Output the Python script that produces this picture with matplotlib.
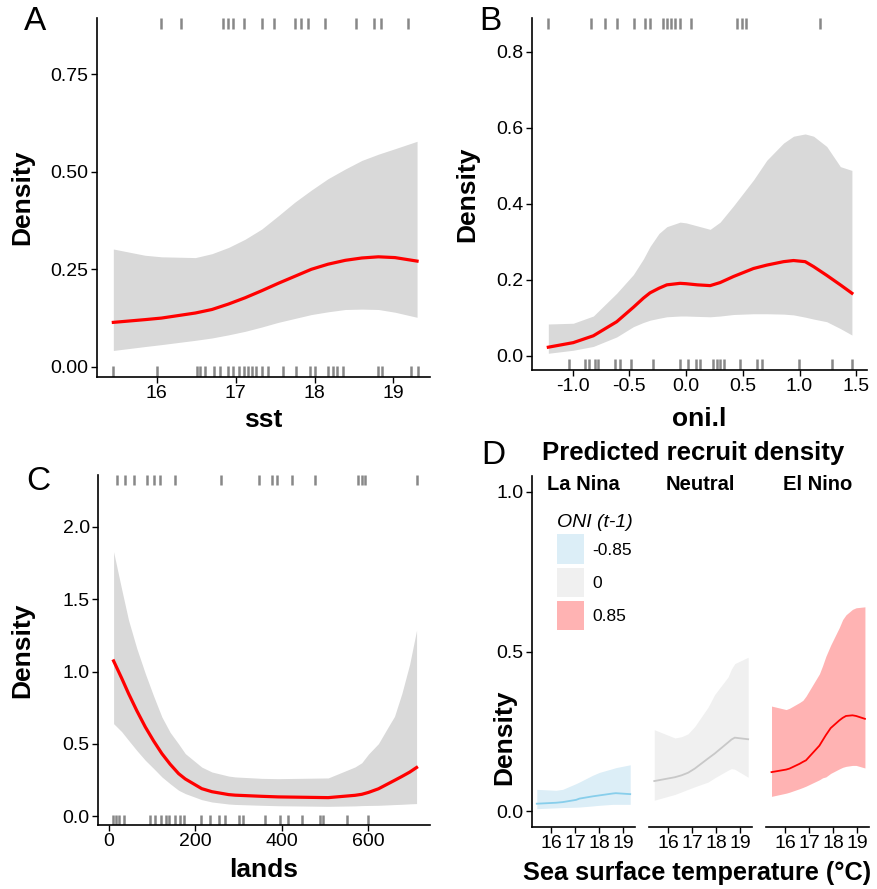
import numpy as np
import matplotlib
matplotlib.use("Agg")
import matplotlib.pyplot as plt
from matplotlib.patches import Patch

plt.rcParams['font.family'] = ['Liberation Sans', 'DejaVu Sans']
plt.rcParams['axes.unicode_minus'] = False

# --- Panel A : sst ---
sst_x = [15.45, 15.85, 16.06, 16.49, 16.70, 16.91, 17.12, 17.33, 17.54, 17.75, 17.96, 18.17, 18.39, 18.60, 18.81, 19.02, 19.30]
sst_fit = [0.114, 0.121, 0.125, 0.138, 0.147, 0.161, 0.177, 0.195, 0.214, 0.232, 0.250, 0.263, 0.273, 0.279, 0.282, 0.280, 0.271]
sst_hi = [0.302, 0.286, 0.282, 0.280, 0.290, 0.306, 0.327, 0.353, 0.387, 0.422, 0.453, 0.482, 0.507, 0.529, 0.545, 0.559, 0.578]
sst_lo = [0.042, 0.052, 0.057, 0.068, 0.074, 0.082, 0.091, 0.102, 0.114, 0.124, 0.134, 0.141, 0.147, 0.148, 0.147, 0.140, 0.127]
sst_rug_top = [16.06, 16.31, 16.84, 16.90, 16.97, 17.11, 17.33, 17.49, 17.75, 17.83, 17.92, 18.13, 18.53, 18.75, 18.84, 19.18]
sst_rug_bot = [15.45, 16.0, 16.51, 16.55, 16.61, 16.72, 16.80, 16.90, 16.97, 17.04, 17.11, 17.16, 17.21, 17.26,
               17.33, 17.41, 17.60, 17.77, 17.94, 18.00, 18.17, 18.23, 18.29, 18.36, 18.80, 18.86, 19.22, 19.31]

# --- Panel B : oni.l ---
oni_x = [-1.215, -0.995, -0.818, -0.612, -0.465, -0.377, -0.318, -0.24, -0.17, -0.053, 0.0, 0.1, 0.212, 0.3, 0.418,
         0.594, 0.712, 0.859, 0.947, 1.05, 1.124, 1.24, 1.36, 1.462]
oni_fit = [0.023, 0.035, 0.053, 0.090, 0.128, 0.152, 0.166, 0.178, 0.187, 0.191, 0.190, 0.187, 0.185, 0.193, 0.209,
           0.230, 0.239, 0.248, 0.251, 0.248, 0.235, 0.212, 0.187, 0.165]
oni_hi = [0.084, 0.086, 0.105, 0.165, 0.214, 0.255, 0.288, 0.322, 0.340, 0.352, 0.350, 0.342, 0.333, 0.352, 0.395,
          0.463, 0.515, 0.560, 0.578, 0.584, 0.578, 0.551, 0.498, 0.488]
oni_lo = [0.007, 0.015, 0.025, 0.050, 0.077, 0.088, 0.094, 0.099, 0.103, 0.105, 0.105, 0.104, 0.103, 0.105, 0.109,
          0.111, 0.111, 0.110, 0.108, 0.102, 0.097, 0.090, 0.072, 0.055]
oni_rug_top = [-1.221, -0.841, -0.715, -0.606, -0.456, -0.362, -0.318, -0.2, -0.17, -0.135, -0.1, -0.053,
               0.044, 0.447, 0.49, 0.53, 1.177]
oni_rug_bot = [-1.03, -0.891, -0.853, -0.803, -0.774, -0.627, -0.583, -0.488, -0.294, -0.053, 0.015, 0.088,
               0.124, 0.241, 0.27, 0.3, 0.33, 0.477, 0.624, 0.668, 0.995, 1.286, 1.462]

# --- Panel C : lands ---
lands_x = [11.5, 30, 46, 65, 84.7, 104, 123, 142, 161.5, 177, 215, 238.5, 277, 292, 354, 392, 507, 569, 584.5,
           600, 623, 646, 660, 677, 695, 711]
lands_fit = [1.073, 0.955, 0.848, 0.730, 0.617, 0.520, 0.433, 0.360, 0.295, 0.258, 0.191, 0.170, 0.150, 0.146,
             0.138, 0.134, 0.129, 0.145, 0.152, 0.165, 0.190, 0.226, 0.248, 0.275, 0.305, 0.337]
lands_hi = [1.827, 1.570, 1.355, 1.160, 0.986, 0.830, 0.686, 0.580, 0.500, 0.433, 0.340, 0.306, 0.278, 0.272,
            0.262, 0.260, 0.265, 0.341, 0.370, 0.430, 0.502, 0.620, 0.690, 0.848, 1.050, 1.285]
lands_lo = [0.640, 0.585, 0.525, 0.455, 0.387, 0.330, 0.272, 0.225, 0.180, 0.157, 0.115, 0.099, 0.085, 0.082,
            0.076, 0.073, 0.069, 0.072, 0.074, 0.075, 0.076, 0.079, 0.081, 0.083, 0.086, 0.088]
lands_rug_top = [19.4, 38.5, 57.7, 88.6, 103.8, 119.3, 153.9, 260, 347.6, 376.9, 388.5, 423, 476.8, 576.7, 585, 592, 711.4]
lands_rug_bot = [9.2, 17, 24.7, 34.6, 96.2, 106.1, 121.6, 132.4, 140, 152.3, 165.4, 173, 213.8, 234.6, 255.4,
                 267.6, 299.9, 311.4, 361.5, 395.9, 415.1, 446.1, 488.3, 495.8, 550, 600]

# --- Panel D : predicted recruit density by ONI ---
oni_groups = ['La Nina', 'Neutral', 'El Nino']
oni_levels = ['-0.85', '0', '0.85']
line_cols = ['#87CEEB', '#C8C8C8', '#FF0000']
fill_cols = ['#DCEEF7', '#F0F0F0', '#FFB3B3']
pred_x = [
    [15.40, 16.20, 16.48, 17.04, 17.18, 17.73, 18.01, 18.57, 18.70, 19.30],
    [15.42, 16.28, 16.56, 16.83, 17.11, 17.67, 17.94, 18.50, 18.64, 18.78, 19.34],
    [15.43, 16.04, 16.18, 16.60, 16.74, 16.87, 17.43, 17.56, 17.70, 17.90, 18.26, 18.40, 18.54, 18.81, 18.96, 19.33],
]
pred_fit = [
    [0.023, 0.026, 0.028, 0.035, 0.039, 0.046, 0.049, 0.055, 0.056, 0.053],
    [0.094, 0.106, 0.112, 0.120, 0.133, 0.165, 0.180, 0.215, 0.224, 0.230, 0.225],
    [0.122, 0.130, 0.133, 0.148, 0.154, 0.159, 0.205, 0.221, 0.238, 0.260, 0.284, 0.292, 0.298, 0.300, 0.298, 0.289],
]
pred_hi = [
    [0.068, 0.065, 0.068, 0.086, 0.091, 0.112, 0.121, 0.133, 0.136, 0.145],
    [0.255, 0.229, 0.233, 0.242, 0.265, 0.326, 0.365, 0.420, 0.445, 0.462, 0.482],
    [0.329, 0.318, 0.322, 0.340, 0.347, 0.360, 0.430, 0.455, 0.485, 0.520, 0.575, 0.600, 0.615, 0.632, 0.637, 0.640],
]
pred_lo = [
    [0.0075, 0.010, 0.011, 0.012, 0.0125, 0.016, 0.018, 0.021, 0.021, 0.021],
    [0.034, 0.052, 0.060, 0.068, 0.076, 0.091, 0.104, 0.128, 0.133, 0.131, 0.106],
    [0.046, 0.056, 0.059, 0.070, 0.074, 0.078, 0.098, 0.104, 0.107, 0.118, 0.132, 0.137, 0.140, 0.143, 0.143, 0.135],
]

W, H = 878, 889
fig = plt.figure(figsize=(W / 100, H / 100), dpi=100)


def box(l, t, r, b):
    return [l / W, 1 - b / H, (r - l) / W, (b - t) / H]


def style(ax):
    for s in ['top', 'right']:
        ax.spines[s].set_visible(False)
    for s in ['left', 'bottom']:
        ax.spines[s].set_linewidth(1.2)
    ax.tick_params(direction='out', length=4, width=1.0, labelsize=14, pad=2, colors='black')


def rug(ax, top, bot):
    tr = ax.get_xaxis_transform()
    ax.vlines(top, 0.97, 1.0, transform=tr, color='#888888', lw=1.8)
    ax.vlines(bot, 0.0, 0.03, transform=tr, color='#888888', lw=1.8)


def panel(rect, x, fit, lo, hi, top, bot, xlim, ylim, yticks, yfmt, xticks, xlabel, xlab_y, letter, letter_xy):
    ax = fig.add_axes(rect)
    ax.fill_between(x, lo, hi, color='#D9D9D9', lw=0)
    ax.plot(x, fit, color='red', lw=2.3)
    rug(ax, top, bot)
    ax.set_xlim(*xlim)
    ax.set_ylim(*ylim)
    ax.set_yticks(yticks)
    ax.set_yticklabels([yfmt.format(v) for v in yticks])
    ax.set_xticks(xticks)
    style(ax)
    ax.set_xlabel(xlabel, fontsize=19, fontweight='bold', va='center')
    ax.xaxis.set_label_coords(0.5, xlab_y)
    ax.set_ylabel('Density', fontsize=19, fontweight='bold', va='center')
    fig.text(letter_xy[0] / W, 1 - letter_xy[1] / H, letter, fontsize=24, ha='center', va='center')
    return ax


axA = panel(box(97, 18, 430, 377), sst_x, sst_fit, sst_lo, sst_hi, sst_rug_top, sst_rug_bot,
            (15.243, 19.464), (-0.026, 0.894), [0, 0.25, 0.5, 0.75], '{:.2f}', [16, 17, 18, 19],
            'sst', -0.12, 'A', (35, 22))
axA.yaxis.set_label_coords(-0.225, 0.5)

axB = panel(box(532, 18, 867, 370), oni_x, oni_fit, oni_lo, oni_hi, oni_rug_top, oni_rug_bot,
            (-1.359, 1.595), (-0.037, 0.889), [0, 0.2, 0.4, 0.6, 0.8], '{:.1f}', [-1.0, -0.5, 0.0, 0.5, 1.0, 1.5],
            'oni.l', -0.139, 'B', (490, 22))
axB.set_xticklabels(['-1.0', '-0.5', '0.0', '0.5', '1.0', '1.5'])
axB.yaxis.set_label_coords(-0.194, 0.5)

axC = panel(box(98, 475, 430, 825), lands_x, lands_fit, lands_lo, lands_hi, lands_rug_top, lands_rug_bot,
            (-24.5, 742), (-0.06, 2.357), [0, 0.5, 1.0, 1.5, 2.0], '{:.1f}', [0, 200, 400, 600],
            'lands', -0.129, 'C', (38, 482))
axC.yaxis.set_label_coords(-0.229, 0.5)

# Panel D facets
facet_px = [(532, 635), (649, 752), (766, 869)]
axes_d = []
for i, (l, r) in enumerate(facet_px):
    ax = fig.add_axes(box(l, 476, r, 827))
    ax.fill_between(pred_x[i], pred_lo[i], pred_hi[i], color=fill_cols[i], lw=0)
    ax.plot(pred_x[i], pred_fit[i], color=line_cols[i], lw=1.3)
    ax.set_xlim(15.2, 19.5)
    ax.set_ylim(-0.05, 1.05)
    ax.set_xticks([16, 17, 18, 19])
    style(ax)
    if i == 0:
        ax.set_yticks([0, 0.5, 1.0])
        ax.set_yticklabels(['0.0', '0.5', '1.0'])
    else:
        ax.spines['left'].set_visible(False)
        ax.set_yticks([])
    ax.text(0.5, 0.975, oni_groups[i], transform=ax.transAxes, ha='center', va='center',
            fontsize=14.5, fontweight='bold')
    axes_d.append(ax)

axes_d[0].set_ylabel('Density', fontsize=19, fontweight='bold', va='center')
axes_d[0].yaxis.set_label_coords(-0.265, 0.256)
fig.text(697 / W, 1 - 873 / H, 'Sea surface temperature (°C)', fontsize=18.3, fontweight='bold',
         ha='center', va='center')
fig.text(693 / W, 1 - 453 / H, 'Predicted recruit density', fontsize=18.5, fontweight='bold',
         ha='center', va='center')
fig.text(493 / W, 1 - 455 / H, 'D', fontsize=24, ha='center', va='center')

handles = [Patch(facecolor=c, edgecolor='none', label=lab) for c, lab in zip(fill_cols, oni_levels)]
leg = axes_d[0].legend(handles=handles, title='ONI (t-1)', loc='upper left', frameon=False,
                       bbox_to_anchor=(557 / W, 1 - 514 / H), bbox_transform=fig.transFigure,
                       fontsize=12.5, title_fontsize=14, handlelength=1.55, handleheight=2.25,
                       labelspacing=0.2, handletextpad=0.5, borderpad=0, borderaxespad=0,
                       alignment='left')
leg.get_title().set_fontstyle('italic')

fig.savefig('out.png', dpi=100)
